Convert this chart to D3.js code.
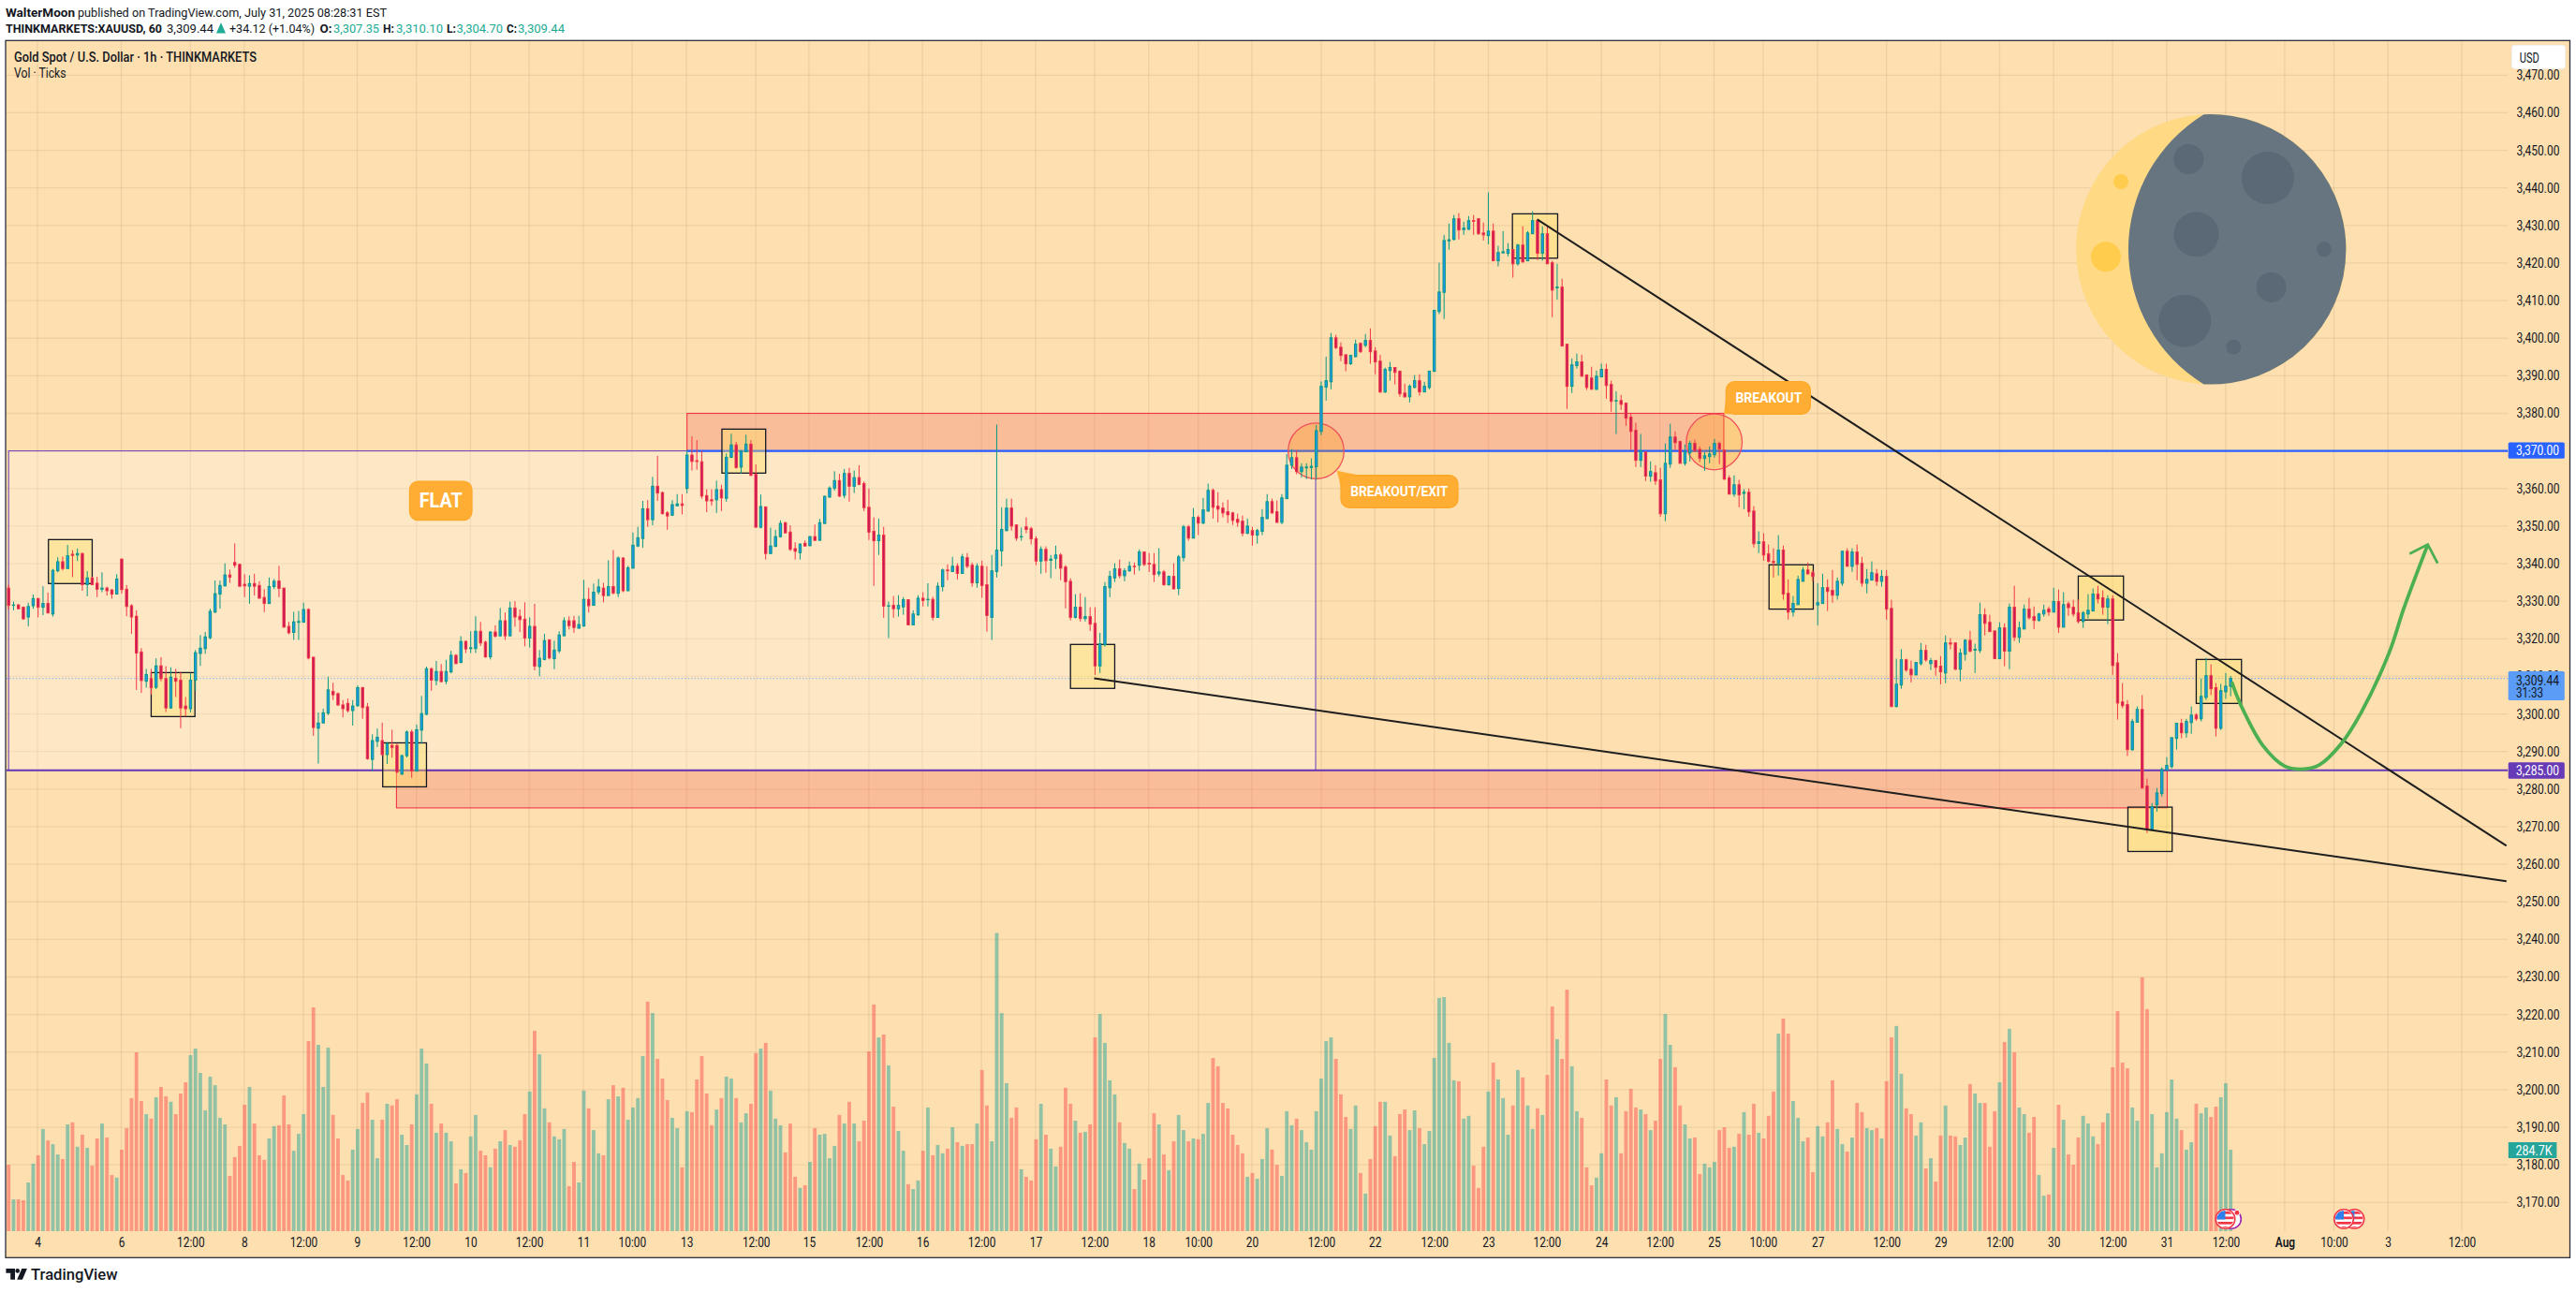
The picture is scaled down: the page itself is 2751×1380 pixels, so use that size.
<!DOCTYPE html>
<html><head><meta charset="utf-8">
<script src="https://cdn.jsdelivr.net/npm/d3@7"></script>
<style>html,body{margin:0;padding:0;background:#fff}svg{display:block}text{font-family:Roboto,"Liberation Sans",sans-serif}</style>
</head><body><div id="c"></div>
<script>
const opens=[
3333.5,3328.9,3329.0,3328.4,3325.8,3328.8,3330.7,3328.4,3329.4,3326.6,
3338.1,3340.5,3338.7,3342.5,3342.3,3342.7,3334.4,3336.2,3334.8,3333.2,
3333.5,3333.0,3331.9,3341.2,3333.2,3328.8,3326.0,3316.5,3308.7,3309.4,
3307.1,3312.8,3309.4,3301.6,3309.5,3309.0,3302.1,3301.4,3309.0,3316.1,
3317.4,3320.3,3327.1,3331.9,3334.1,3337.0,3340.3,3339.8,3334.5,3334.0,
3334.7,3334.2,3331.0,3329.4,3333.9,3335.4,3333.5,3323.3,3321.7,3324.4,
3324.4,3327.8,3315.1,3296.2,3297.6,3300.2,3306.0,3305.4,3302.4,3302.8,
3300.9,3302.2,3307.0,3301.9,3287.9,3292.7,3292.9,3289.2,3291.6,3291.6,
3284.0,3288.9,3295.2,3284.8,3295.7,3299.9,3312.0,3308.9,3311.3,3308.7,
3311.2,3315.6,3313.7,3319.3,3317.4,3317.4,3322.0,3319.1,3315.2,3321.8,
3320.8,3324.8,3320.8,3328.2,3326.0,3325.2,3320.2,3323.3,3312.6,3314.5,
3319.7,3314.7,3316.8,3320.8,3324.8,3324.8,3322.8,3323.4,3330.5,3328.9,
3332.5,3333.5,3331.5,3333.9,3332.1,3341.5,3332.8,3338.8,3344.7,3346.7,
3354.6,3351.7,3360.6,3358.9,3353.5,3352.9,3355.4,3355.9,3360.0,3368.9,
3367.4,3367.1,3358.1,3357.0,3357.0,3359.7,3357.4,3368.3,3371.6,3365.7,
3369.8,3371.8,3363.8,3349.7,3355.1,3342.7,3344.6,3347.2,3350.9,3348.4,
3344.0,3342.9,3345.4,3344.8,3347.2,3346.2,3350.7,3357.7,3360.1,3362.1,
3358.2,3364.0,3360.6,3362.9,3361.3,3355.0,3348.6,3346.1,3347.6,3328.7,
3328.9,3328.0,3328.5,3330.4,3323.7,3326.4,3330.8,3330.4,3330.5,3325.7,
3333.9,3338.3,3337.9,3339.3,3337.4,3341.6,3339.6,3334.9,3339.3,3334.4,
3325.7,3337.9,3343.4,3348.8,3354.8,3350.3,3347.1,3349.8,3349.3,3346.6,
3340.7,3343.8,3340.9,3341.4,3342.3,3339.1,3335.3,3325.7,3328.4,3325.4,
3325.9,3324.1,3312.8,3318.4,3333.6,3336.2,3338.6,3336.8,3338.1,3339.3,
3339.6,3343.1,3340.1,3339.8,3337.3,3337.8,3334.4,3336.6,3333.4,3341.6,
3349.8,3346.8,3352.3,3350.8,3354.0,3359.5,3355.3,3354.8,3353.8,3353.5,
3351.8,3351.3,3348.1,3348.8,3347.6,3348.6,3352.0,3356.5,3353.8,3351.0,
3357.3,3366.2,3368.2,3364.5,3365.5,3365.6,3365.8,3375.2,3387.0,3388.4,
3400.1,3397.6,3395.6,3393.2,3395.1,3398.6,3398.1,3399.4,3396.6,3393.9,
3385.7,3391.4,3392.2,3391.2,3385.4,3384.4,3386.9,3388.7,3385.7,3386.9,
3391.2,3407.1,3412.2,3425.9,3426.3,3431.8,3428.9,3429.0,3431.3,3431.8,
3428.0,3427.3,3428.5,3420.6,3422.7,3422.6,3423.6,3419.8,3424.8,3420.6,
3427.8,3431.3,3422.6,3427.8,3420.1,3413.4,3413.6,3398.4,3387.2,3392.7,
3393.7,3390.2,3389.4,3386.4,3389.7,3391.7,3387.7,3383.3,3383.4,3382.7,
3379.0,3375.5,3367.5,3369.7,3363.3,3364.2,3362.3,3353.3,3366.5,3373.7,
3372.5,3366.7,3369.5,3372.0,3370.4,3368.0,3368.5,3369.0,3372.0,3370.2,
3362.8,3358.5,3361.0,3358.7,3359.0,3354.0,3345.4,3345.8,3342.6,3340.6,
3340.1,3343.6,3332.1,3327.1,3329.1,3335.3,3338.3,3337.6,3329.0,3329.4,
3333.6,3332.9,3331.6,3334.8,3343.3,3339.3,3343.1,3340.1,3334.8,3335.6,
3337.3,3335.3,3336.6,3328.1,3302.0,3307.7,3314.4,3311.9,3310.4,3313.4,
3316.9,3313.4,3314.2,3312.7,3310.9,3318.9,3318.9,3311.9,3315.9,3319.6,
3317.0,3316.9,3326.4,3324.4,3322.1,3314.7,3322.9,3316.7,3328.4,3320.4,
3322.6,3327.9,3325.9,3324.9,3326.6,3327.9,3327.1,3329.9,3323.1,3329.3,
3328.4,3326.9,3324.6,3326.6,3327.4,3331.9,3330.9,3328.4,3330.6,3313.6,
3303.2,3302.5,3290.5,3297.8,3301.2,3280.8,3269.1,3275.8,3278.8,3285.0,
3286.0,3293.5,3297.5,3295.0,3297.7,3299.7,3298.7,3304.4,3310.2,3307.0,
3296.2,3305.9,3307.35];
const highs=[
3334.4,3329.9,3329.3,3328.6,3329.6,3331.8,3330.9,3334.0,3332.3,3338.6,
3341.7,3341.9,3345.0,3343.6,3344.0,3342.9,3338.0,3336.5,3336.5,3337.7,
3333.9,3333.2,3337.2,3341.4,3334.3,3329.2,3327.6,3317.5,3312.0,3312.0,
3314.8,3315.1,3312.7,3312.4,3312.0,3311.2,3304.5,3310.8,3317.0,3321.0,
3321.8,3328.0,3335.5,3335.5,3340.1,3338.4,3345.4,3340.0,3337.2,3336.9,
3337.3,3335.3,3333.2,3336.3,3335.9,3339.4,3333.5,3324.5,3327.2,3327.4,
3329.6,3328.1,3315.1,3300.4,3301.4,3309.9,3308.3,3305.7,3303.7,3304.1,
3303.7,3307.6,3307.2,3302.9,3294.6,3296.1,3297.7,3292.5,3295.8,3292.1,
3289.2,3295.6,3295.8,3297.2,3304.8,3312.6,3312.4,3314.1,3313.3,3314.4,
3316.8,3315.9,3320.7,3319.5,3322.0,3326.0,3324.5,3319.5,3322.0,3323.6,
3328.2,3327.0,3329.9,3330.0,3327.8,3329.7,3325.7,3329.3,3317.0,3321.3,
3319.9,3319.5,3322.0,3325.7,3326.0,3326.1,3326.1,3335.7,3333.6,3334.7,
3335.9,3334.9,3340.9,3343.6,3341.9,3341.7,3339.4,3348.3,3349.8,3356.7,
3356.9,3363.1,3368.7,3359.2,3354.0,3356.9,3358.5,3358.5,3370.2,3373.9,
3372.9,3370.0,3359.8,3359.8,3362.1,3361.0,3369.3,3374.6,3372.4,3370.2,
3374.3,3372.9,3366.4,3358.4,3355.2,3349.6,3349.0,3351.5,3351.1,3350.2,
3345.7,3345.4,3346.2,3347.3,3350.4,3351.9,3358.1,3360.6,3364.6,3363.9,
3365.2,3365.5,3364.8,3366.2,3361.9,3360.0,3352.3,3352.0,3349.8,3329.9,
3331.4,3331.6,3331.1,3330.5,3327.6,3331.6,3332.4,3334.8,3331.2,3335.0,
3338.7,3339.8,3341.8,3340.1,3342.6,3342.8,3340.3,3340.1,3340.8,3339.3,
3342.3,3377.0,3355.0,3357.3,3357.3,3350.5,3349.6,3352.3,3349.8,3347.3,
3344.6,3344.6,3342.3,3344.8,3342.8,3339.6,3336.1,3331.9,3332.1,3331.1,
3328.4,3328.4,3321.6,3335.1,3338.1,3340.1,3341.1,3338.8,3340.6,3340.3,
3343.8,3343.3,3342.8,3342.8,3344.1,3338.3,3336.8,3340.1,3342.3,3350.3,
3350.3,3354.8,3352.8,3357.5,3361.3,3360.0,3359.0,3356.3,3357.0,3353.8,
3353.3,3352.8,3352.0,3349.8,3349.3,3354.5,3358.5,3357.3,3356.8,3358.5,
3369.2,3370.5,3370.2,3366.7,3366.7,3368.0,3376.9,3388.5,3395.1,3401.4,
3400.9,3398.9,3395.6,3395.6,3399.6,3398.9,3401.1,3402.6,3397.6,3395.6,
3392.2,3393.7,3392.2,3391.4,3387.9,3387.7,3390.2,3390.4,3388.4,3391.4,
3407.6,3420.1,3427.5,3430.5,3432.8,3433.3,3431.0,3432.5,3432.8,3431.8,
3430.8,3438.8,3430.5,3424.6,3428.5,3425.3,3423.6,3425.1,3429.8,3428.5,
3433.8,3431.7,3429.8,3429.8,3420.6,3419.8,3415.8,3398.4,3394.6,3395.9,
3395.6,3390.4,3392.4,3391.4,3393.2,3393.2,3388.7,3385.9,3384.9,3382.9,
3379.9,3377.5,3374.5,3369.7,3367.2,3366.2,3365.5,3372.0,3377.2,3375.2,
3372.7,3371.7,3372.7,3373.0,3371.2,3369.7,3371.2,3373.2,3372.5,3370.2,
3363.5,3363.5,3362.3,3359.8,3360.0,3355.3,3348.6,3348.1,3345.1,3344.1,
3347.6,3344.8,3335.8,3331.4,3336.8,3339.1,3340.3,3338.3,3334.8,3337.3,
3335.8,3338.3,3336.3,3343.3,3344.1,3344.1,3345.1,3341.8,3338.6,3340.6,
3338.6,3338.3,3338.3,3330.4,3314.7,3317.2,3314.7,3314.2,3313.7,3318.9,
3318.4,3314.9,3314.4,3315.4,3320.9,3320.2,3318.9,3317.4,3319.9,3322.1,
3318.7,3329.6,3328.1,3326.4,3322.1,3324.4,3324.1,3329.4,3334.1,3324.6,
3329.1,3330.9,3328.6,3326.9,3329.1,3328.6,3333.6,3333.1,3332.4,3329.9,
3330.4,3330.4,3327.4,3331.9,3333.4,3334.1,3332.9,3331.6,3331.6,3316.2,
3308.2,3303.7,3298.7,3302.0,3305.0,3282.8,3276.3,3280.3,3285.8,3288.5,
3293.7,3297.5,3298.7,3298.7,3302.0,3300.2,3309.4,3314.9,3313.2,3308.2,
3308.0,3310.9,3310.1];
const lows=[
3327.8,3327.6,3327.8,3325.1,3323.3,3328.0,3325.7,3326.3,3326.7,3325.9,
3337.7,3338.2,3338.6,3336.4,3340.7,3332.8,3331.3,3334.3,3331.1,3332.4,
3331.5,3330.7,3331.8,3332.0,3326.0,3321.3,3306.4,3305.6,3307.0,3305.1,
3306.6,3308.7,3300.5,3301.4,3304.5,3296.2,3299.3,3300.4,3306.2,3312.8,
3316.0,3319.9,3326.9,3328.0,3333.9,3334.9,3338.9,3333.8,3331.1,3329.3,
3331.5,3330.7,3327.1,3329.3,3333.2,3331.1,3323.0,3321.2,3319.7,3319.7,
3324.4,3314.5,3294.2,3286.8,3297.5,3299.7,3303.7,3302.1,3299.1,3300.4,
3296.9,3301.9,3298.7,3287.8,3284.9,3291.2,3288.8,3286.7,3288.4,3284.2,
3283.8,3288.4,3283.0,3284.6,3292.1,3299.7,3306.2,3307.6,3308.4,3307.9,
3310.8,3313.3,3313.5,3316.2,3316.2,3316.2,3318.1,3314.9,3314.5,3320.3,
3320.5,3319.7,3320.7,3323.2,3321.8,3318.0,3317.7,3311.6,3310.0,3314.3,
3314.5,3311.9,3316.2,3320.8,3322.5,3321.6,3322.8,3323.2,3327.0,3328.9,
3331.8,3329.7,3331.5,3331.8,3331.1,3332.4,3332.7,3338.7,3344.4,3344.2,
3349.8,3350.2,3356.7,3353.1,3349.0,3352.7,3355.2,3353.1,3358.7,3364.8,
3365.0,3357.3,3353.7,3355.4,3353.5,3354.0,3356.5,3368.1,3365.3,3363.9,
3369.6,3363.3,3349.6,3349.4,3341.1,3342.5,3344.4,3346.9,3348.0,3343.4,
3341.1,3341.1,3344.6,3344.6,3346.0,3346.2,3350.6,3357.5,3359.4,3357.7,
3357.4,3356.5,3358.8,3360.9,3354.0,3346.3,3334.1,3342.3,3325.6,3320.2,
3325.6,3325.9,3326.4,3323.6,3323.6,3326.1,3328.6,3328.6,3324.9,3325.6,
3332.6,3335.6,3337.8,3335.8,3337.3,3338.8,3333.9,3333.6,3330.9,3321.9,
3319.7,3336.3,3339.3,3348.6,3348.8,3346.1,3346.1,3348.1,3345.1,3339.6,
3337.3,3337.6,3336.1,3338.6,3335.6,3328.1,3324.9,3325.4,3324.6,3324.6,
3322.1,3310.4,3310.9,3317.9,3331.1,3335.1,3336.1,3335.3,3337.8,3337.1,
3338.1,3339.3,3337.8,3335.1,3336.6,3334.1,3334.1,3333.1,3331.6,3340.6,
3346.1,3346.8,3347.6,3350.5,3353.8,3352.0,3351.0,3352.3,3350.8,3350.3,
3349.8,3347.3,3347.8,3344.8,3345.3,3347.6,3351.8,3353.3,3350.8,3350.5,
3357.3,3365.2,3363.8,3362.9,3362.5,3362.4,3362.3,3374.2,3383.4,3386.4,
3397.1,3393.9,3391.2,3392.9,3394.9,3396.1,3397.6,3393.2,3390.4,3385.4,
3385.4,3388.7,3387.7,3384.4,3384.2,3382.9,3386.7,3384.7,3385.6,3386.4,
3391.0,3406.4,3405.1,3423.6,3426.0,3426.3,3427.5,3428.8,3427.5,3427.5,
3426.0,3425.0,3420.6,3419.1,3422.6,3421.8,3416.1,3419.3,3420.1,3420.5,
3427.8,3420.8,3420.6,3419.8,3405.6,3410.3,3397.9,3381.2,3385.4,3391.9,
3389.7,3386.2,3386.4,3386.2,3389.7,3383.9,3380.4,3374.5,3380.9,3376.7,
3370.2,3365.7,3365.7,3362.0,3361.8,3361.0,3352.5,3351.3,3365.5,3370.2,
3366.7,3366.1,3367.2,3369.7,3367.0,3364.7,3366.7,3368.2,3366.5,3362.3,
3358.5,3357.8,3355.0,3354.5,3352.5,3344.3,3342.8,3340.8,3340.3,3336.3,
3336.8,3330.4,3325.1,3325.9,3329.0,3335.3,3337.1,3335.3,3323.6,3329.4,
3327.4,3329.6,3330.4,3334.1,3339.3,3337.8,3335.6,3333.9,3332.1,3335.6,
3334.1,3333.9,3325.1,3301.7,3301.7,3306.7,3311.2,3308.4,3310.2,3312.9,
3313.9,3311.7,3310.2,3307.9,3308.2,3317.2,3311.7,3308.7,3314.2,3316.4,
3310.9,3316.2,3320.9,3321.9,3314.7,3314.7,3312.7,3311.9,3319.4,3318.9,
3322.6,3325.1,3322.6,3324.6,3325.9,3326.1,3327.1,3321.6,3323.1,3326.1,
3325.9,3324.1,3322.9,3325.4,3327.4,3329.4,3326.4,3323.9,3310.4,3298.5,
3301.5,3288.8,3290.2,3297.7,3280.1,3268.3,3269.1,3274.0,3278.0,3285.5,
3285.5,3290.5,3293.5,3293.7,3294.7,3298.2,3298.0,3303.7,3305.0,3294.0,
3295.7,3304.0,3304.7];
const closes=[
3328.9,3329.0,3328.0,3325.3,3328.6,3330.7,3328.4,3329.4,3326.9,3338.2,
3340.5,3338.7,3342.1,3342.2,3342.7,3334.4,3336.2,3334.4,3333.2,3333.5,
3332.8,3331.9,3335.9,3333.1,3328.6,3325.8,3316.2,3308.9,3310.5,3307.0,
3312.8,3309.4,3301.6,3309.8,3308.7,3301.6,3301.4,3309.0,3316.3,3317.5,
3320.5,3327.3,3332.0,3334.2,3337.0,3336.4,3339.6,3334.0,3334.1,3334.7,
3334.0,3330.8,3329.4,3333.9,3335.3,3333.4,3323.1,3321.6,3324.5,3324.6,
3327.8,3314.9,3296.4,3297.6,3300.3,3306.4,3305.1,3302.4,3301.4,3300.9,
3302.1,3307.0,3301.7,3288.1,3292.9,3293.8,3289.2,3292.1,3291.1,3284.6,
3288.9,3295.2,3284.8,3295.8,3300.1,3312.0,3309.0,3311.3,3308.6,3311.3,
3315.6,3313.4,3319.3,3317.3,3317.6,3322.0,3318.9,3315.2,3321.8,3320.7,
3324.8,3320.8,3328.2,3325.8,3325.1,3320.2,3323.3,3312.7,3314.8,3319.5,
3314.9,3317.0,3321.0,3324.8,3323.5,3323.0,3323.8,3330.5,3328.8,3332.4,
3333.8,3331.5,3333.9,3332.2,3341.5,3332.8,3338.9,3344.9,3346.9,3354.6,
3351.7,3360.6,3358.8,3353.3,3352.7,3355.7,3355.9,3355.5,3368.9,3367.2,
3367.2,3358.0,3356.7,3356.7,3359.7,3357.5,3368.3,3371.6,3365.6,3369.9,
3371.8,3363.5,3349.7,3355.2,3342.7,3344.7,3347.2,3350.7,3348.2,3343.8,
3343.3,3345.2,3344.7,3347.2,3346.2,3350.9,3357.9,3360.1,3362.1,3358.0,
3364.0,3360.6,3362.9,3361.1,3354.9,3348.4,3346.1,3347.6,3328.7,3328.8,
3328.0,3328.9,3330.4,3323.7,3326.6,3330.8,3330.2,3330.5,3325.7,3334.0,
3338.3,3338.1,3339.3,3337.4,3341.8,3339.3,3334.9,3339.3,3334.2,3326.2,
3338.1,3343.6,3349.1,3354.8,3350.0,3346.8,3347.2,3349.1,3346.6,3340.7,
3343.8,3340.8,3341.2,3342.3,3338.8,3335.2,3325.7,3328.4,3325.4,3325.9,
3323.9,3312.8,3318.7,3333.9,3336.6,3338.6,3336.8,3338.1,3339.3,3339.2,
3343.1,3339.8,3339.9,3337.1,3337.8,3334.4,3336.6,3333.3,3341.8,3349.8,
3346.8,3352.3,3350.8,3354.3,3359.5,3355.0,3354.5,3353.5,3353.0,3351.5,
3351.0,3348.1,3350.0,3347.6,3348.8,3352.3,3356.5,3353.5,3351.0,3357.5,
3366.2,3368.2,3364.5,3365.7,3365.7,3365.9,3375.4,3387.2,3388.7,3400.1,
3397.5,3395.4,3393.2,3395.4,3398.4,3396.4,3399.4,3396.4,3393.7,3385.7,
3391.7,3392.2,3390.9,3385.2,3384.4,3387.2,3388.7,3385.7,3387.2,3391.2,
3407.4,3412.3,3426.0,3426.2,3431.8,3428.8,3429.3,3431.3,3431.1,3427.8,
3427.5,3428.5,3420.6,3422.8,3423.0,3423.6,3419.8,3424.8,3420.3,3428.0,
3431.3,3422.6,3427.8,3419.8,3412.8,3413.6,3397.9,3387.2,3392.9,3393.7,
3389.9,3386.9,3386.4,3389.9,3391.7,3387.4,3383.2,3383.4,3382.4,3378.7,
3375.2,3367.5,3370.0,3363.3,3364.5,3362.0,3353.3,3366.7,3373.7,3372.2,
3366.7,3369.7,3372.0,3370.1,3368.0,3368.7,3369.2,3372.0,3370.5,3362.5,
3358.5,3361.0,3358.3,3359.0,3353.8,3345.3,3345.8,3342.3,3340.6,3340.3,
3343.6,3331.9,3327.1,3329.4,3335.8,3338.3,3337.3,3336.6,3329.6,3333.6,
3332.6,3331.6,3335.3,3343.3,3339.3,3343.1,3339.8,3334.8,3335.8,3337.6,
3335.3,3336.6,3327.9,3302.0,3307.9,3314.4,3311.7,3310.4,3313.7,3316.9,
3314.4,3314.2,3312.4,3311.2,3318.9,3318.6,3311.9,3316.2,3319.6,3316.7,
3317.2,3326.4,3324.1,3321.9,3314.7,3322.9,3316.7,3328.4,3320.4,3322.9,
3327.9,3325.6,3324.9,3326.6,3327.6,3327.1,3329.9,3323.1,3329.1,3328.3,
3326.6,3324.6,3326.9,3327.6,3331.9,3330.6,3328.4,3330.6,3312.9,3302.9,
3302.2,3290.5,3298.0,3301.2,3280.3,3269.3,3275.3,3279.0,3285.2,3286.3,
3293.7,3297.5,3295.0,3298.0,3299.7,3298.7,3304.7,3310.2,3306.7,3296.2,
3306.2,3307.4,3309.44];
const volumes=[
232,111,111,108,170,236,265,357,317,304,268,252,373,380,295,337,291,229,324,376,
327,196,187,285,360,465,625,455,409,393,468,504,471,452,409,481,520,615,638,553,
422,540,510,396,373,193,259,298,442,504,376,265,249,324,367,370,474,373,281,340,
409,664,782,651,504,641,406,324,196,177,285,357,448,484,389,255,389,445,439,461,
337,301,373,478,638,586,445,344,376,344,314,167,216,203,331,406,281,265,223,288,
314,353,301,295,317,409,488,700,618,429,380,331,321,357,157,242,170,491,429,353,
272,265,461,510,471,501,389,432,465,612,802,762,602,533,458,396,360,223,419,416,
530,612,481,370,425,465,540,533,465,380,412,445,622,638,658,491,393,370,275,376,
190,151,160,242,360,337,340,255,298,406,376,452,376,314,386,628,792,677,687,579,
435,350,281,164,147,177,281,432,265,301,272,288,363,311,298,304,304,376,563,439,
314,1042,762,517,396,432,216,190,177,321,445,337,288,226,295,501,445,386,344,347,
373,677,759,658,527,478,380,308,288,147,236,180,255,412,373,268,213,314,406,353,
314,324,321,340,448,605,576,448,429,337,301,272,190,203,183,252,360,285,232,193,
419,370,393,353,311,285,419,533,664,677,602,478,399,357,439,203,131,252,367,452,
452,334,262,409,425,353,422,360,304,350,605,815,818,658,527,524,393,403,229,151,
295,488,589,530,465,337,439,563,537,439,357,429,406,546,785,671,602,844,576,419,
396,223,160,187,272,530,439,468,272,419,497,432,425,409,353,386,602,759,651,573,
439,373,324,327,200,236,223,242,353,363,291,295,340,416,337,445,344,324,403,488,
690,743,690,455,396,314,327,206,367,331,380,527,357,304,278,327,448,416,360,353,
360,324,524,677,717,550,429,409,334,380,219,255,173,334,439,334,331,301,327,514,
481,448,448,295,419,520,661,707,625,432,409,344,399,196,124,128,291,442,389,268,
232,327,403,376,331,304,380,412,573,769,589,569,432,386,887,776,409,223,272,416,
530,393,353,285,311,445,412,432,399,435,468,517,284.7];
const tickPositions=[5.87,22.91,36.99,47.92,59.96,70.9,82.95,93.95,105.9,116.9,126.8,137.9,152,162.8,175,185.9,197.9,208.9,220.9,231.9,242,252.9,267,277.9,290,301,312.9,324,335.9,346.9,356.9,368,382,393,405,416,428,439,451,463,473,484,499];
const tickLabels=["4","6","12:00","8","12:00","9","12:00","10","12:00","11","10:00","13","12:00","15","12:00","16","12:00","17","12:00","18","10:00","20","12:00","22","12:00","23","12:00","24","12:00","25","10:00","27","12:00","29","12:00","30","12:00","31","12:00","Aug","10:00","3","12:00"];
const priceTicks=d3.range(3170,3471,10);
const boxes=[[8.1,17,3346.4,3334.7],[29,37.9,3311,3299.3],[76.1,85,3292.3,3280.6],[145.1,154,3375.8,3364.1],[216,225,3318.5,3306.8],[305.9,315.1,3433.1,3421.3],[358.1,367.1,3339.7,3327.9],[421,430.2,3336.7,3325],[431.1,440.1,3275.2,3263.4],[445,454.2,3314.5,3302.8]];
const trendA=[[310.95,3431.6],[508.1,3264.9]];
const trendB=[[220.8,3309.5],[508.1,3255.5]];
const projection=[[452.2,3308.5],[454.1,3302.3],[458.6,3291.5],[463,3286.1],[466.5,3285.3],[470,3286.4],[474.4,3291.9],[478.6,3300.5],[484.3,3316.5],[487.2,3328],[492.1,3345.1]];
const arrowHead=[[488.4,3342.6],[492.1,3345.1],[494.1,3340.1]];
const zones=[[138,348.9,3380,3370],[78.9,439.1,3285,3275]];
const flatRange=[0,265.87,3370,3285];
const circles=[[265.96,3370],[346.95,3372.4]];

const W=2751,H=1380,BG="#fddfb0",UP="#089981",DN="#f23645";
const plotR=2678.2,TAGX=2678.7,TAGW=60.1,LBLX=2687;
const x=d3.scaleLinear().domain([0,1]).range([9.2,14.45]);
const y=d3.scaleLinear().domain([3170,3470]).range([1284.3,80.3]);
const yV=d3.scaleLinear().domain([0,1042]).range([1315,1315-1042/3.272]);
const svg=d3.select("#c").append("svg").attr("width",W).attr("height",H).attr("viewBox",`0 0 ${W} ${H}`);
const isUp=i=>closes[i]>=opens[i];
const idx=d3.range(opens.length);

function txt(g,s,xx,yy,o={}){
  const t=g.append("text").attr("x",xx).attr("y",yy).attr("dominant-baseline","central").text(s)
   .attr("font-size",o.size||14).attr("fill",o.fill||"#131722").attr("font-weight",o.weight||400);
  if(o.anchor)t.attr("text-anchor",o.anchor);
  if(o.len)t.attr("textLength",o.len).attr("lengthAdjust","spacingAndGlyphs");
  return t;
}
// frame
svg.append("rect").attr("x",6).attr("y",43.3).attr("width",2738.5).attr("height",1300).attr("fill",BG).attr("stroke","#2a2e39").attr("stroke-width",1.3);
// grid
const grid=svg.append("g").attr("stroke","rgba(150,110,70,.13)").attr("stroke-width",1.3);
grid.selectAll("line.h").data(priceTicks).join("line").attr("x1",6.6).attr("x2",plotR).attr("y1",d=>y(d)).attr("y2",d=>y(d));
grid.selectAll("line.v").data(tickPositions).join("line").attr("x1",d=>x(d)).attr("x2",d=>x(d)).attr("y1",44).attr("y2",1315);
// volumes
svg.append("g").selectAll("rect").data(idx).join("rect")
 .attr("x",i=>x(i)-1.9).attr("width",3.8).attr("y",i=>yV(volumes[i])).attr("height",i=>1315-yV(volumes[i]))
 .attr("fill",i=>isUp(i)?"#26a69a":"#fb4f4f").attr("fill-opacity",.5);
// current price dotted
svg.append("line").attr("x1",6.6).attr("x2",plotR).attr("y1",y(3309.44)).attr("y2",y(3309.44)).attr("stroke","#5b9cf6").attr("stroke-width",1).attr("stroke-dasharray","1.5 2");
// flat range
svg.append("rect").attr("x",x(flatRange[0])).attr("width",x(flatRange[1])-x(flatRange[0])).attr("y",y(flatRange[2])).attr("height",y(flatRange[3])-y(flatRange[2]))
 .attr("fill","rgba(255,255,255,.25)").attr("stroke","#673ab7").attr("stroke-width",1);
// zones
zones.forEach(z=>svg.append("rect").attr("x",x(z[0])).attr("width",x(z[1])-x(z[0])).attr("y",y(z[2])).attr("height",y(z[3])-y(z[2]))
 .attr("fill","rgba(242,54,69,.2)").attr("stroke","#f23645").attr("stroke-width",1.1));
// levels
svg.append("line").attr("x1",x(138)).attr("x2",plotR).attr("y1",y(3370)).attr("y2",y(3370)).attr("stroke","#2962ff").attr("stroke-width",2.2);
svg.append("line").attr("x1",6.6).attr("x2",plotR).attr("y1",y(3285)).attr("y2",y(3285)).attr("stroke","#673ab7").attr("stroke-width",2.2);
// boxes
svg.append("g").selectAll("rect").data(boxes).join("rect")
 .attr("x",d=>x(d[0])).attr("width",d=>x(d[1])-x(d[0])).attr("y",d=>y(d[2])).attr("height",d=>y(d[3])-y(d[2]))
 .attr("fill","rgba(255,225,100,.38)").attr("stroke","#131722").attr("stroke-width",1.3);
// circles
svg.append("g").selectAll("circle").data(circles).join("circle").attr("cx",d=>x(d[0])).attr("cy",d=>y(d[1])).attr("r",29.8)
 .attr("fill","rgba(255,152,0,.25)").attr("stroke","#f0525a").attr("stroke-width",1.3);
// candles
const cg=svg.append("g");
cg.selectAll("line").data(idx).join("line").attr("x1",i=>x(i)).attr("x2",i=>x(i)).attr("y1",i=>y(highs[i])).attr("y2",i=>y(lows[i]))
 .attr("stroke",i=>isUp(i)?UP:DN).attr("stroke-width",1);
cg.selectAll("rect").data(idx).join("rect")
 .attr("x",i=>x(i)-1.2).attr("width",2.4)
 .attr("y",i=>y(Math.max(opens[i],closes[i])))
 .attr("height",i=>Math.max(.4,Math.abs(y(opens[i])-y(closes[i]))))
 .attr("fill",i=>isUp(i)?"#2196f3":"#c2185b").attr("stroke",i=>isUp(i)?UP:DN).attr("stroke-width",1);
// trend lines
const lg=d3.line().x(d=>x(d[0])).y(d=>y(d[1]));
[trendA,trendB].forEach(t=>svg.append("path").attr("d",lg(t)).attr("fill","none").attr("stroke","#1e1e1e").attr("stroke-width",2));
// projection
svg.append("path").attr("d",d3.line().x(d=>x(d[0])).y(d=>y(d[1])).curve(d3.curveCatmullRom)(projection)).attr("fill","none").attr("stroke","#4caf50").attr("stroke-width",3.8);
svg.append("path").attr("d",lg(arrowHead)).attr("fill","none").attr("stroke","#4caf50").attr("stroke-width",2.8);
// callouts
const ORANGE="#ffad33",OB="#ffa726";
function callout(rx,ry,rw,rh,px,py,label,tx,tlen,fs,ax,ay,bx,by){
  const g=svg.append("g");
  g.append("path").attr("d",`M${px} ${py}L${ax} ${ay}L${bx} ${by}Z`).attr("fill",ORANGE);
  g.append("rect").attr("x",rx).attr("y",ry).attr("width",rw).attr("height",rh).attr("rx",9).attr("fill",ORANGE).attr("stroke",OB).attr("stroke-width",1.2);
  txt(g,label,tx,ry+rh/2,{size:fs,fill:"#fff",weight:700,anchor:"middle",len:tlen});
}
callout(1432,507.7,125,34.6,1427.7,502.7,"BREAKOUT/EXIT",1494.3,104,14,1432,520,1452,507.7);
callout(1843.3,407.7,90.1,34.6,1841,442.3,"BREAKOUT",1888.9,71,14,1843.3,425,1862,442.3);
callout(437.4,514,66.6,41.7,437.4,514,"FLAT",470.7,46,22,437.4,514,437.4,514);
// moon
const moon=svg.append("g");
moon.append("circle").attr("cx",2361.4).attr("cy",266.3).attr("r",144.3).attr("fill","#ffd983");
moon.append("path").attr("d","M2353.5 122.2A144.3 144.3 0 1 1 2353.5 410.4A169.2 169.2 0 0 1 2353.5 122.2Z").attr("fill","#66757f");
[[2265,194,8],[2248.9,274.3,16]].forEach(c=>moon.append("circle").attr("cx",c[0]).attr("cy",c[1]).attr("r",c[2]).attr("fill","#ffcc4d"));
[[2337.4,170,16],[2421.8,190,28],[2345.5,250.3,24],[2425.6,306.7,16],[2333.2,342.7,28],[2385.3,370.7,8],[2481.9,266.3,8]].forEach(c=>moon.append("circle").attr("cx",c[0]).attr("cy",c[1]).attr("r",c[2]).attr("fill","#5b6876"));
// axes
const yAxis=svg.append("g").attr("transform",`translate(${plotR},0)`).call(d3.axisRight(y).tickValues(priceTicks).tickSize(0).tickPadding(9.2).tickFormat(d3.format(",.2f")));
yAxis.select(".domain").remove();
yAxis.selectAll("text").attr("font-size",14).attr("fill","#131722").attr("font-family","Roboto").attr("textLength",46).attr("lengthAdjust","spacingAndGlyphs");
const xAxis=svg.append("g").attr("transform","translate(0,1315)").call(d3.axisBottom(x).tickValues(tickPositions).tickSize(0).tickPadding(7).tickFormat((d,i)=>tickLabels[i]));
xAxis.select(".domain").remove();
xAxis.selectAll("text").attr("font-size",14).attr("fill","#131722").attr("font-family","Roboto").attr("font-weight",(d,i)=>tickLabels[i]==="Aug"?600:400)
 .each(function(){const w=this.getComputedTextLength();d3.select(this).attr("textLength",w*.85).attr("lengthAdjust","spacingAndGlyphs");});
// price tags
function tag(yy,h,fill,label,color,sub){
  svg.append("rect").attr("x",TAGX).attr("y",yy).attr("width",TAGW).attr("height",h).attr("rx",1.5).attr("fill",fill);
  txt(svg,label,LBLX,sub?yy+9.5:yy+h/2,{fill:color,len:46});
  if(sub)txt(svg,sub,LBLX,yy+22.5,{fill:color,len:29});
}
tag(472.5,17.2,"#2962ff","3,370.00","#fff");
tag(814.3,17.5,"#673ab7","3,285.00","#fff");
tag(717,31,"#5b9cf6","3,309.44","#131722","31:33");
svg.append("rect").attr("x",2678.8).attr("y",1220).attr("width",51.6).attr("height",17).attr("fill","#26a69a");
txt(svg,"284.7K",2706,1228.5,{fill:"#fff",anchor:"middle",len:39});
// USD
svg.append("rect").attr("x",2682.4).attr("y",48.3).attr("width",57.1).attr("height",25).attr("rx",3).attr("fill","#fff").attr("stroke","#f0f0f0");
txt(svg,"USD",2690.8,61.5,{size:14,len:21});
// flags
function flag(cx,cy,gId){
  const g=svg.append("g");
  g.append("clipPath").attr("id",gId).append("circle").attr("cx",cx).attr("cy",cy).attr("r",9);
  g.append("circle").attr("cx",cx).attr("cy",cy).attr("r",10.3).attr("fill","#fff").attr("stroke","#f23645").attr("stroke-width",1.6);
  const c=g.append("g").attr("clip-path",`url(#${gId})`);
  [-8,-2.5,3,8].forEach(d=>c.append("rect").attr("x",cx-10).attr("y",cy+d).attr("width",20).attr("height",2.7).attr("fill","#f23645"));
  c.append("rect").attr("x",cx-10).attr("y",cy-10).attr("width",10).attr("height",10.5).attr("fill","#2f80ed");
}
svg.append("circle").attr("cx",2383).attr("cy",1302).attr("r",10.3).attr("fill","#fff").attr("stroke","#9c27b0").attr("stroke-width",1.6);
svg.append("circle").attr("cx",2389).attr("cy",1295.3).attr("r",3).attr("fill","#f23645").attr("stroke","#fff");
flag(2376.5,1302,"f1");
flag(2514.4,1302,"f3");
flag(2503,1302,"f2");
// header
const GR="#22ab94",HS=13;
txt(svg,"WalterMoon",6,13,{size:HS,weight:700,len:74});
txt(svg,"published on TradingView.com, July 31, 2025 08:28:31 EST",83,13,{size:HS,len:330});
txt(svg,"THINKMARKETS:XAUUSD, 60",6,30,{size:HS,weight:700,len:167});
txt(svg,"3,309.44",178,30,{size:HS,len:50});
svg.append("path").attr("d","M236 24L241 35.5H231Z").attr("fill",GR);
txt(svg,"+34.12 (+1.04%)",245,30,{size:HS,len:91});
[["O:",341.6,13,"3,307.35",356,49],["H:",409,12,"3,310.10",423,50],["L:",477,10,"3,304.70",487.4,49.6],["C:",541,11,"3,309.44",553,50]].forEach(r=>{
  txt(svg,r[0],r[1],30,{size:HS,weight:700,len:r[2]});
  txt(svg,r[3],r[4],30,{size:HS,fill:GR,len:r[5]});
});
txt(svg,"Gold Spot / U.S. Dollar · 1h · THINKMARKETS",15,60.7,{size:14,weight:500,len:259});
txt(svg,"Vol · Ticks",15,77.7,{size:14,len:55.6});
// logo
svg.append("path").attr("d","M6.4 1355h9.6v11.7h-4.8v-7h-4.8zM23.3 1355h5.6l-5 11.7h-5.7z").attr("fill","#131722");
svg.append("circle").attr("cx",18.7).attr("cy",1357.4).attr("r",2.3).attr("fill","#131722");
txt(svg,"TradingView",33,1361.7,{size:16,weight:500,len:92.6});
</script></body></html>
